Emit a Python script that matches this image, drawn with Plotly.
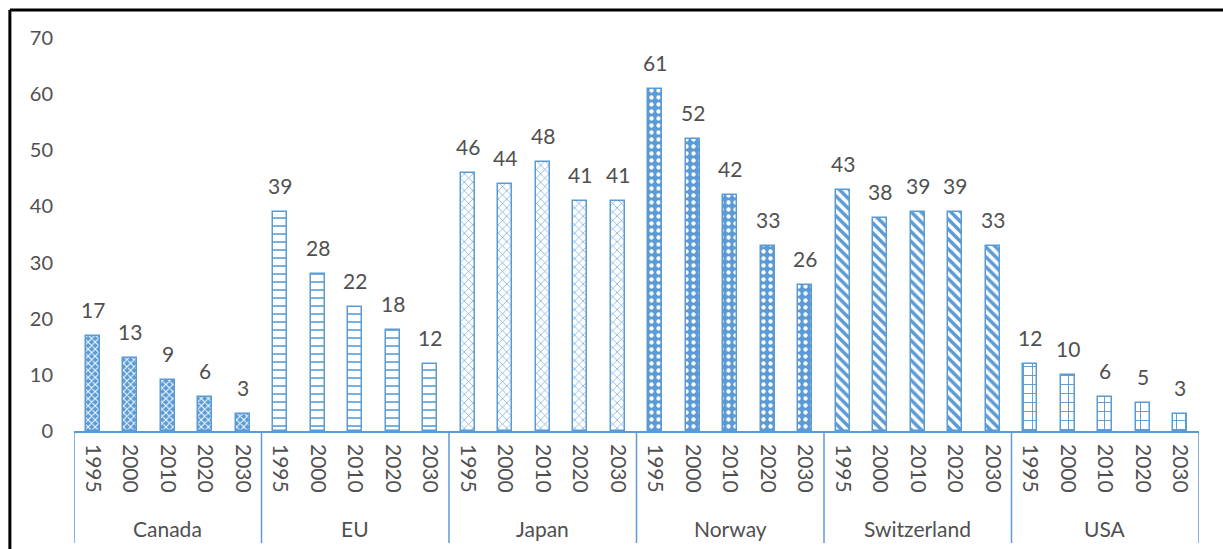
import plotly.graph_objects as go

# Values per country, one bar per year
countries = ["Canada", "EU", "Japan", "Norway", "Switzerland", "USA"]
years = ["1995", "2000", "2010", "2020", "2030"]
canada = [17, 13, 9, 6, 3]
eu = [39, 28, 22, 18, 12]
japan = [46, 44, 48, 41, 41]
norway = [61, 52, 42, 33, 26]
switzerland = [43, 38, 39, 39, 33]
usa = [12, 10, 6, 5, 3]
y_ticks = [0, 10, 20, 30, 40, 50, 60, 70]

series = [canada, eu, japan, norway, switzerland, usa]

BLUE = "#5B9BD5"
TEXT = "#505050"
FONT = "Lato"
FS = 21

# fill pattern per country: (shape, background, foreground, size, solidity)
patterns = [
    ("x", BLUE, "white", 5, 0.35),
    ("-", "white", BLUE, 8, 0.2),
    ("x", "white", BLUE, 6, 0.2),
    (".", BLUE, "white", 7, 0.3),
    ("\\", "white", BLUE, 7, 0.5),
    ("+", "white", BLUE, 9, 0.2),
]

n_years = len(years)
fig = go.Figure()
annotations = []
tickvals, ticktext = [], []

for g, (country, vals) in enumerate(zip(countries, series)):
    xs = [g * n_years + i for i in range(n_years)]
    shp, bg, fg, sz, sol = patterns[g]
    fig.add_trace(go.Bar(
        x=xs, y=vals, width=0.37, name=country, showlegend=False,
        marker=dict(
            color=bg,
            line=dict(color=BLUE, width=1.5),
            pattern=dict(shape=shp, bgcolor=bg, fgcolor=fg, size=sz,
                         solidity=sol, fillmode="replace"),
        ),
        hoverinfo="x+y",
    ))
    for x, v in zip(xs, vals):
        annotations.append(dict(
            x=x, y=v, xref="x", yref="y", text=str(v), showarrow=False,
            yanchor="bottom", yshift=12, font=dict(family=FONT, size=FS, color=TEXT),
        ))
    tickvals += xs
    ticktext += years
    # country name under its group
    annotations.append(dict(
        x=g * n_years + (n_years - 1) / 2, y=-0.247, xref="x", yref="paper",
        text=country, showarrow=False, yanchor="middle",
        font=dict(family=FONT, size=FS, color=TEXT),
    ))

n_total = len(countries) * n_years
shapes = []
# group dividers below the axis
for g in range(len(countries) + 1):
    xd = g * n_years - 0.5
    shapes.append(dict(type="line", xref="x", yref="paper", x0=xd, x1=xd,
                       y0=0, y1=-0.285, line=dict(color=BLUE, width=1.5)))
# outer frame (top and left edges)
shapes.append(dict(type="line", xref="paper", yref="paper", x0=-0.057, x1=1.1,
                   y0=1.071, y1=1.071, line=dict(color="black", width=3)))
shapes.append(dict(type="line", xref="paper", yref="paper", x0=-0.057, x1=-0.057,
                   y0=1.071, y1=-0.5, line=dict(color="black", width=3)))

fig.update_layout(
    width=1223, height=549,
    margin=dict(l=74, r=24, t=38, b=118),
    paper_bgcolor="white", plot_bgcolor="white",
    bargap=0, barmode="overlay",
    annotations=annotations, shapes=shapes,
    font=dict(family=FONT, size=FS, color=TEXT),
)
fig.update_xaxes(
    range=[-0.5, n_total - 0.5], tickvals=tickvals, ticktext=ticktext,
    tickangle=90, showline=True, linecolor=BLUE, linewidth=1.5,
    ticks="", showgrid=False, zeroline=False, ticklabelstandoff=7,
    tickfont=dict(family=FONT, size=FS, color=TEXT),
)
fig.update_yaxes(
    range=[0, 70], tickvals=y_ticks, showgrid=False, zeroline=False,
    showline=False, ticks="", ticklabelstandoff=20,
    tickfont=dict(family=FONT, size=20, color=TEXT),
)

fig.write_html("out.html")
